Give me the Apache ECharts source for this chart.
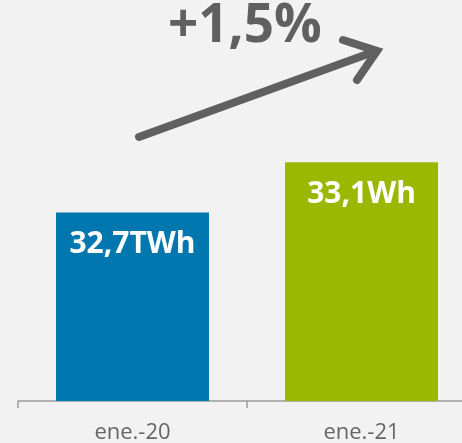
<!DOCTYPE html>
<html><head><meta charset="utf-8">
<script src="https://cdn.jsdelivr.net/npm/echarts@6/dist/echarts.min.js"></script>
<style>html,body{margin:0;padding:0;background:#f2f2f2}#c{width:462px;height:443px}</style>
</head><body><div id="c"></div>
<script>
const categories = ['ene.-20', 'ene.-21'];
const values = [32.7, 33.1];
const barLabels = ['32,7TWh', '33,1Wh'];
const barColors = ['#0077ae', '#9bb800'];
const changeText = '+1,5%';

const chart = echarts.init(document.getElementById('c'));
chart.setOption({
  backgroundColor: '#f2f2f2',
  animation: false,
  grid: { left: 18, top: 24, bottom: 42, right: -14, outerBoundsMode: 'none', containLabel: false },
  xAxis: {
    type: 'category', data: categories,
    axisLine: { lineStyle: { color: '#9a9a9a', width: 1.5 } },
    axisTick: { show: true, length: 7, lineStyle: { color: '#9a9a9a', width: 1.5 } },
    axisLabel: { color: '#666', fontSize: 22, fontFamily: 'Open Sans', margin: 21 }
  },
  yAxis: { type: 'value', min: 31.2, max: 34.2, show: false, splitLine: { show: false } },
  series: [{
    type: 'bar', barWidth: 153,
    data: values.map((v, i) => ({ value: v, itemStyle: { color: barColors[i] } })),
    label: {
      show: true, position: 'insideTop', distance: 17,
      formatter: p => barLabels[p.dataIndex],
      color: '#fff', fontSize: 30, fontWeight: 'bold', fontFamily: 'Open Sans'
    }
  }],
  graphic: [
    { type: 'text', left: 168, top: 0, style: { text: changeText, fill: '#606060', font: 'bold 53px "Open Sans"' } },
    { type: 'polyline', shape: { points: [[139, 137], [376, 51]] }, style: { stroke: '#606060', lineWidth: 8, lineCap: 'round' } },
    { type: 'polyline', shape: { points: [[343, 40], [377, 51], [357, 80]] }, style: { stroke: '#606060', lineWidth: 8, lineCap: 'round', lineJoin: 'miter', fill: null } }
  ]
});
</script></body></html>
